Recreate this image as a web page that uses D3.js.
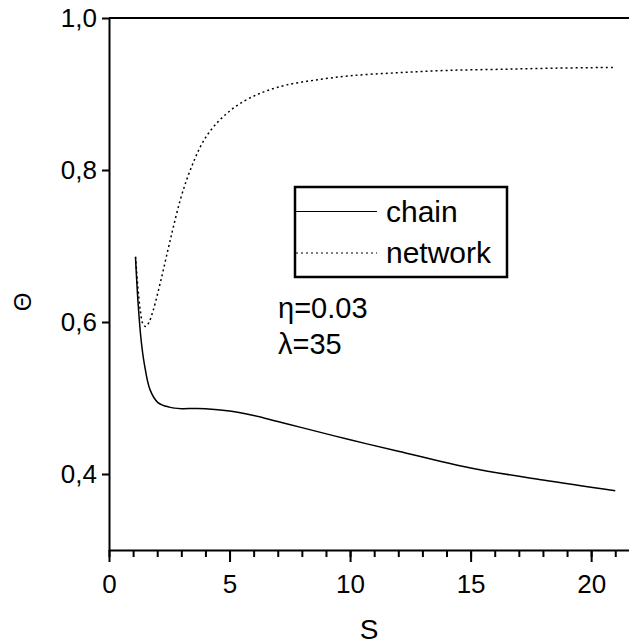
<!DOCTYPE html>
<html>
<head>
<meta charset="utf-8">
<script src="https://cdn.jsdelivr.net/npm/d3@7"></script>
<style>
  body { margin: 0; background: #fff; }
  text { font-family: "Liberation Sans", Arial, Helvetica, sans-serif; fill: #000; }
</style>
</head>
<body>
<svg id="chart" width="629" height="644"></svg>
<script>
// data
var chainS = [1.1, 1.2, 1.33, 1.46, 1.7, 2.03, 2.5, 3, 3.5, 4, 5, 6, 7, 8, 10, 12, 15, 18, 21];
var chainTheta = [0.685, 0.628, 0.577, 0.546, 0.511, 0.494, 0.488, 0.486, 0.4862, 0.486, 0.483, 0.477, 0.469, 0.461, 0.445, 0.430, 0.408, 0.392, 0.378];

var networkS = [1.1, 1.2, 1.3, 1.4, 1.52, 1.65, 1.84, 2.19, 2.46, 2.67, 2.95, 3.22, 3.5, 3.78, 4.12, 4.54, 5.02, 5.57, 6.13, 6.61, 7.37, 8.48, 10, 12, 14, 16.2, 18.5, 21];
var networkTheta = [0.686, 0.645, 0.615, 0.598, 0.594, 0.599, 0.616, 0.660, 0.697, 0.725, 0.760, 0.787, 0.810, 0.830, 0.848, 0.864, 0.878, 0.890, 0.899, 0.905, 0.912, 0.918, 0.924, 0.928, 0.931, 0.9325, 0.934, 0.935];

var xTicks = [0, 5, 10, 15, 20];
var yTicks = [0.4, 0.6, 0.8, 1.0];

var svg = d3.select("#chart");
var margin = {top: 18, right: 0, bottom: 94, left: 109};
var width = 629 - margin.left - margin.right,
    height = 644 - margin.top - margin.bottom;

var x = d3.scaleLinear().domain([0, 21.57]).range([0, width]);
var y = d3.scaleLinear().domain([0.3, 1.0]).range([height, 0]);

var g = svg.append("g").attr("transform", "translate(" + margin.left + "," + margin.top + ")");

// top frame line
g.append("line")
  .attr("x1", 0).attr("x2", width)
  .attr("y1", 0).attr("y2", 0)
  .attr("stroke", "#000").attr("stroke-width", 2);

// x axis, minor ticks every 1
var xMinor = g.append("g").attr("transform", "translate(0," + height + ")")
  .call(d3.axisBottom(x).tickValues(d3.range(0, 22)).tickSize(7).tickFormat(""));
xMinor.select(".domain").remove();
xMinor.selectAll("line").attr("stroke-width", 2);

var xAxis = g.append("g").attr("transform", "translate(0," + height + ")")
  .call(d3.axisBottom(x).tickValues(xTicks).tickSize(12).tickSizeOuter(0).tickPadding(6));
xAxis.select(".domain").attr("stroke-width", 2);
xAxis.selectAll("line").attr("stroke-width", 2);
xAxis.selectAll("text").style("font-size", "26px").attr("dy", "0.95em");

var yAxis = g.append("g")
  .call(d3.axisLeft(y).tickValues(yTicks).tickSize(7).tickSizeOuter(0).tickPadding(5)
    .tickFormat(function (d) { return d3.format(".1f")(d).replace(".", ","); }));
yAxis.select(".domain").attr("stroke-width", 2);
yAxis.selectAll("line").attr("stroke-width", 2);
yAxis.selectAll("text").style("font-size", "26px");

// axis titles
svg.append("text")
  .attr("x", margin.left + width / 2).attr("y", 639)
  .attr("text-anchor", "middle").style("font-size", "28px")
  .text("S");
svg.append("text")
  .attr("transform", "translate(31,302) rotate(-90)")
  .attr("text-anchor", "middle").style("font-size", "24px")
  .text("Θ");

// curves
var line = d3.line()
  .x(function (d) { return x(d[0]); })
  .y(function (d) { return y(d[1]); })
  .curve(d3.curveCatmullRom.alpha(0.5));

g.append("path")
  .datum(d3.zip(chainS, chainTheta))
  .attr("fill", "none").attr("stroke", "#000").attr("stroke-width", 1.5)
  .attr("d", line);

g.append("path")
  .datum(d3.zip(networkS, networkTheta))
  .attr("fill", "none").attr("stroke", "#000").attr("stroke-width", 1.5)
  .attr("stroke-dasharray", "2,3")
  .attr("d", line);

// legend
var legend = svg.append("g");
legend.append("rect")
  .attr("x", 295).attr("y", 187).attr("width", 212).attr("height", 90)
  .attr("fill", "none").attr("stroke", "#000").attr("stroke-width", 2.5);
legend.append("line")
  .attr("x1", 296).attr("x2", 377).attr("y1", 211.5).attr("y2", 211.5)
  .attr("stroke", "#000").attr("stroke-width", 1.2);
legend.append("line")
  .attr("x1", 296).attr("x2", 377).attr("y1", 253).attr("y2", 253)
  .attr("stroke", "#000").attr("stroke-width", 1.2).attr("stroke-dasharray", "2,3");
legend.append("text").attr("x", 386).attr("y", 222).style("font-size", "30px").text("chain");
legend.append("text").attr("x", 386).attr("y", 263).style("font-size", "30px").text("network");

// parameters
svg.append("text").attr("x", 278).attr("y", 318).style("font-size", "29px").text("η=0.03");
svg.append("text").attr("x", 278).attr("y", 354).style("font-size", "29px").text("λ=35");
</script>
</body>
</html>
